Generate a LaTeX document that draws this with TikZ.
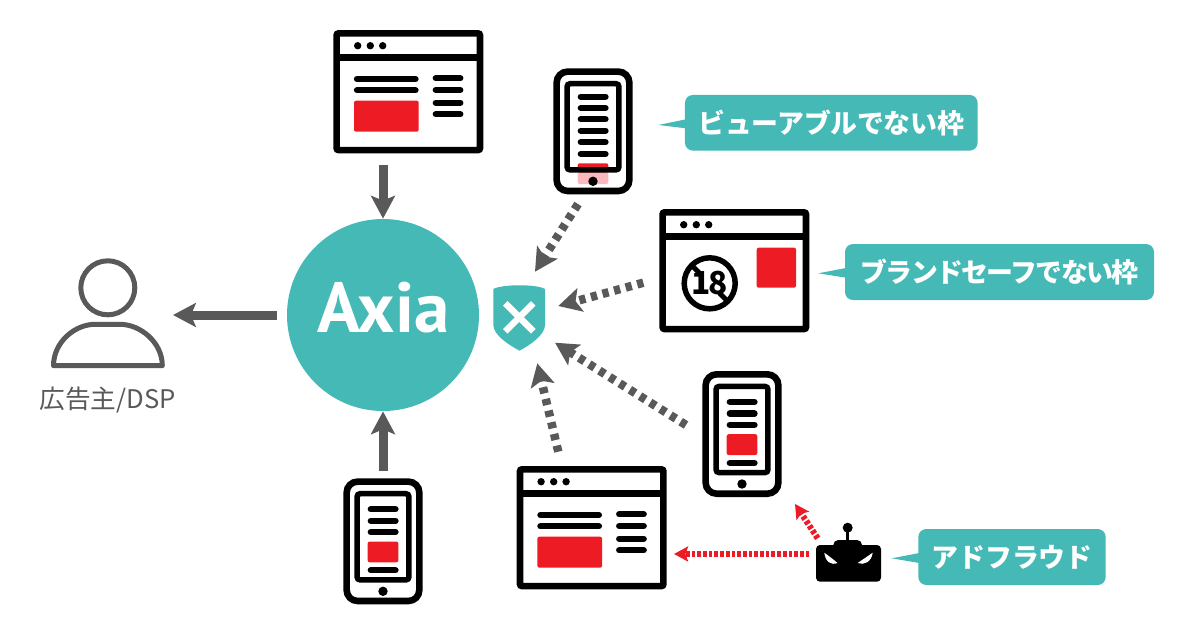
\documentclass[tikz,border=0pt]{standalone}
\usepackage{fontspec}
\setmainfont{Noto Sans CJK JP}
\newfontfamily\logofont{PT Sans}
\usepackage{xcolor}
\usetikzlibrary{arrows.meta,positioning}
\definecolor{axteal}{RGB}{69,185,182}
\definecolor{axgrey}{RGB}{89,89,89}
\definecolor{axred}{RGB}{237,28,36}
\definecolor{axpink}{RGB}{251,185,190}
\def\px{0.02cm}
\tikzstyle{flowarrow} = [line width=9*\px,-{Stealth[length=13pt,width=13.6pt,inset=2.8pt]},color=axgrey]
\tikzstyle{dashflow} = [line width=8.5*\px,dash pattern=on 6.3*\px off 5.7*\px,-{Stealth[length=13pt,width=13.6pt,inset=2.8pt]},color=axgrey]
\tikzstyle{fraudflow} = [line width=6*\px,dash pattern=on 3.7*\px off 2*\px,-{Stealth[length=8pt,width=8.5pt,inset=1.5pt]},color=axred]
\tikzstyle{frame} = [draw=black,line width=6.6*\px,inner sep=0pt]
\tikzstyle{textline} = [line width=6.3*\px,line cap=round,color=black]
\tikzstyle{redblock} = [fill=axred,rounded corners=2*\px]
\tikzstyle{tag} = [fill=axteal,rounded corners=8*\px,text=white,font=\bfseries\fontsize{15.3pt}{15.3pt}\selectfont,inner sep=0pt]

% browser window, top left corner at the scope origin
\newcommand{\browserframe}[1]{
    \node[frame, rounded corners=2*\px, minimum width=143.4*\px, minimum height=116.7*\px] (#1) at (75,61.7) {};
    \draw[line width=6.4*\px] (3.3,27.5) -- (146.7,27.5);
    \foreach \dotx in {24.4,37,49.4}
        \fill (\dotx,15.7) circle (3.7*\px);
}
\newcommand{\browserpage}{
    \foreach \liney in {49,60.3}
        \draw[textline] (23.7,\liney) -- (82.2,\liney);
    \foreach \liney in {48.3,60,72.7,84.3}
        \draw[textline] (102.5,\liney) -- (127,\liney);
    \fill[redblock] (20.7,70.7) rectangle (85.4,101.7);
}
% phone, top left corner at the scope origin
\newcommand{\phoneframe}[1]{
    \node[frame, rounded corners=11*\px, minimum width=72.7*\px, minimum height=119.4*\px] (#1) at (39.7,63) {};
    \node[frame, line width=5.5*\px, rounded corners=3*\px, minimum width=51.9*\px, minimum height=86.2*\px] (#1screen) at (39.7,58.5) {};
    \fill (39.7,113) circle (4.7*\px);
}
\newcommand{\phonepage}{
    \foreach \liney in {31,42.6,53.8,92}
        \draw[textline] (27.5,\liney) -- (52.2,\liney);
    \fill[redblock] (24.4,63.2) rectangle (55,84);
}

\begin{document}
\begin{tikzpicture}[x=\px,y=-\px]
    \useasboundingbox (0,0) rectangle (1200,630);

    % Axia
    \node[circle, fill=axteal, minimum size=192*\px, inner sep=0pt] (axia) at (383,315) {};
    \node[text=white, font=\logofont\bfseries\fontsize{40.4pt}{40.4pt}\selectfont, anchor=base] (axialabel) at (383.5,332.7) {Axia};

    % Advertiser
    \draw[color=axgrey, line width=5*\px] (107.8,287.8) circle (27*\px);
    \draw[color=axgrey, line width=5*\px, line join=round] (53.5,365.7) .. controls (53.5,342) and (75,324.3) .. (95,324.3) -- (120,324.3) .. controls (140,324.3) and (162.3,342) .. (162.3,365.7) -- cycle;
    \node[text=axgrey, font=\fontsize{14.6pt}{14.6pt}\selectfont] (advertiser) at (107.5,400) {広告主/DSP};

    % Shield
    \fill[axteal] (493.3,289) .. controls (502,284) and (537,284) .. (545,289) -- (545,325) .. controls (545,335) and (530,345) .. (519.5,350.7) .. controls (509,345) and (493.3,335) .. (493.3,325) -- cycle;
    \draw[white, line width=6.5*\px] (505.3,303.3) -- (533.3,331.3);
    \draw[white, line width=6.5*\px] (533.3,303.3) -- (505.3,331.3);

    % Top browser
    \begin{scope}[shift={(333.3,30)}]
        \browserframe{browsertop}
        \browserpage
    \end{scope}

    % Bottom browser
    \begin{scope}[shift={(516.7,466)}]
        \browserframe{browserlow}
        \browserpage
    \end{scope}

    % Brand unsafe browser
    \begin{scope}[shift={(659.3,209)}]
        \browserframe{browserbrand}
        \fill[redblock] (97.4,38.7) rectangle (136.7,78.7);
    \end{scope}
    \draw[line width=5.5*\px] (709.7,283.3) circle (25.5*\px);
    \draw[line width=5*\px] (691.7,265.3) -- (700,273.6);
    \draw[line width=5*\px] (719.4,293) -- (727.7,301.3);
    \node[font=\bfseries\fontsize{18pt}{18pt}\selectfont\addfontfeature{LetterSpace=-6}, inner sep=0pt] (agelabel) at (709.7,283.3) {18};

    % Viewable phone
    \begin{scope}[shift={(553.3,68.3)}]
        \fill[axpink, rounded corners=2*\px] (24.4,104) rectangle (55,115.7);
        \fill[axred, rounded corners=2*\px] (24.4,95) rectangle (55,104);
        \phoneframe{phoneview}
        \foreach \liney in {28.4,39.7,51,62.4,74,85.7}
            \draw[textline] (27.5,\liney) -- (52.2,\liney);
    \end{scope}

    % Bottom phone
    \begin{scope}[shift={(343.3,478.3)}]
        \phoneframe{phonelow}
        \phonepage
    \end{scope}

    % Right phone
    \begin{scope}[shift={(702.3,371)}]
        \phoneframe{phoneright}
        \phonepage
    \end{scope}

    % Robot
    \fill[rounded corners=4*\px] (816,545) rectangle (881,581.7);
    \fill[rounded corners=5*\px] (833.3,540) rectangle (862,552);
    \fill (847.7,527.7) circle (5*\px);
    \draw[line width=3.5*\px] (847.7,530) -- (847.7,541);
    \fill[white] (824.3,552.7) .. controls (829,556) and (834,560) .. (837.5,563) .. controls (831,565.5) and (825.5,562) .. (824.3,552.7) -- cycle;
    \fill[white] (872.7,552.7) .. controls (868,556) and (862,560) .. (857.7,563) .. controls (864,565.5) and (871.5,562) .. (872.7,552.7) -- cycle;
    \node[minimum width=65*\px, minimum height=36.7*\px, inner sep=0pt] (robot) at (848.5,563.3) {};

    % Tags
    \node[tag, minimum width=292.7*\px, minimum height=55.7*\px] (tagview) at (831.3,122.8) {\addfontfeature{LetterSpace=-1}ビューアブルでない枠};
    \fill[axteal] (686,119.3) -- (658.3,125) -- (686,128.3) -- cycle;
    \node[tag, minimum width=309*\px, minimum height=56*\px] (tagbrand) at (999.5,272) {\addfontfeature{LetterSpace=-6}ブランドセーフでない枠};
    \fill[axteal] (846,268) -- (818.3,273.3) -- (846,277.7) -- cycle;
    \node[tag, minimum width=187.4*\px, minimum height=56*\px] (tagfraud) at (1012,557) {アドフラウド};
    \fill[axteal] (919.3,553) -- (891.7,558.3) -- (919.3,563) -- cycle;

    % End points
    \coordinate (topstart) at (383,165);
    \coordinate (lowstart) at (383,471);
    \coordinate (advertisertip) at (173,315);
    \coordinate (viewstart) at (578,204);
    \coordinate (viewtip) at (535,271.7);
    \coordinate (brandstart) at (643.3,282.7);
    \coordinate (brandtip) at (558.3,306);
    \coordinate (rightstart) at (686,425);
    \coordinate (righttip) at (555,342.7);
    \coordinate (lowbrowserstart) at (558.3,451.7);
    \coordinate (lowbrowsertip) at (537.3,363.3);
    \coordinate (fraudbrowserstart) at (809.3,554);
    \coordinate (fraudbrowsertip) at (674,554);
    \coordinate (fraudphonestart) at (817.7,538.3);
    \coordinate (fraudphonetip) at (795,504);

    % Arrows
    \draw[flowarrow] (topstart) -- (axia);
    \draw[flowarrow] (lowstart) -- (axia);
    \draw[flowarrow, shorten <=10*\px] (axia) -- (advertisertip);
    \draw[dashflow] (viewstart) -- (viewtip);
    \draw[dashflow] (brandstart) -- (brandtip);
    \draw[dashflow] (rightstart) -- (righttip);
    \draw[dashflow] (lowbrowserstart) -- (lowbrowsertip);
    \draw[fraudflow] (fraudbrowserstart) -- (fraudbrowsertip);
    \draw[fraudflow] (fraudphonestart) -- (fraudphonetip);
\end{tikzpicture}
\end{document}
